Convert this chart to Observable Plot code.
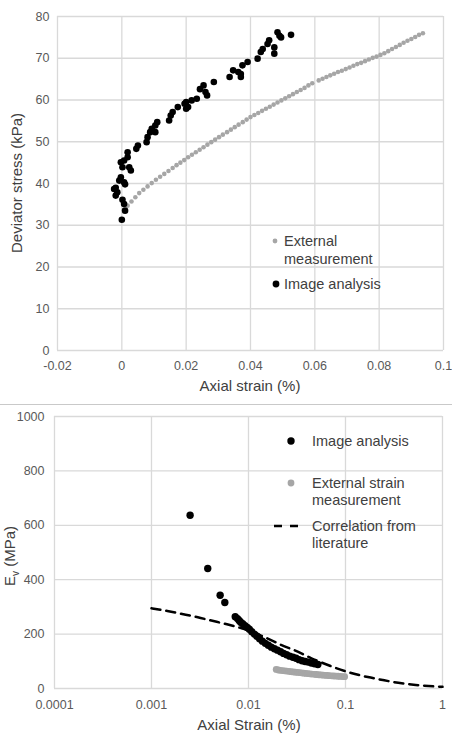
<!DOCTYPE html>
<html><head><meta charset="utf-8">
<script src="https://cdn.jsdelivr.net/npm/d3@7"></script>
<script src="https://cdn.jsdelivr.net/npm/@observablehq/plot@0.6"></script>
<style>
body{margin:0;background:#fff;font-family:"Liberation Sans",Arial,sans-serif;}
#wrap{position:relative;width:452px;height:734px;overflow:hidden;background:#fff}
#top,#bottom{position:absolute;left:0}
#top{top:0}
#bottom{top:405px}
.sep{position:absolute;left:0;top:404px;width:452px;height:1px;background:#c9c9c9}
svg{display:block}
</style></head>
<body><div id="wrap"><div id="top"></div><div class="sep"></div><div id="bottom"></div></div>
<script>
// ---------- Top chart: deviator stress vs axial strain ----------
const topXTicks = [-0.02, 0, 0.02, 0.04, 0.06, 0.08, 0.1];
const topXLabels = ["-0.02", "0", "0.02", "0.04", "0.06", "0.08", "0.1"];
const topYTicks = [0, 10, 20, 30, 40, 50, 60, 70, 80];

const extStrain = [0.0018,0.0030,0.0042,0.0054,0.0067,0.0080,0.0093,0.0106,0.0119,0.0132,0.0145,0.0158,0.0170,0.0182,0.0194,0.0206,0.0218,0.0230,0.0242,0.0254,0.0266,0.0278,0.0290,0.0302,0.0314,0.0327,0.0339,0.0351,0.0363,0.0376,0.0388,0.0400,0.0412,0.0424,0.0436,0.0448,0.0460,0.0472,0.0484,0.0496,0.0508,0.0520,0.0532,0.0544,0.0556,0.0568,0.0580,0.0592,0.0612,0.0624,0.0636,0.0648,0.0660,0.0672,0.0684,0.0696,0.0708,0.0720,0.0732,0.0744,0.0756,0.0768,0.0780,0.0792,0.0804,0.0816,0.0828,0.0840,0.0852,0.0864,0.0876,0.0888,0.0900,0.0912,0.0924,0.0936];
const extStress = [34.7,35.7,36.7,37.7,38.5,39.3,40.1,40.9,41.6,42.3,43.0,43.7,44.4,45.0,45.6,46.3,46.9,47.5,48.1,48.7,49.3,49.9,50.5,51.1,51.7,52.3,52.9,53.5,54.1,54.7,55.3,55.9,56.4,56.9,57.4,57.9,58.4,58.9,59.4,59.9,60.4,60.9,61.4,61.9,62.4,62.9,63.5,64.0,64.7,65.1,65.5,65.9,66.3,66.7,67.0,67.4,67.8,68.2,68.6,68.9,69.3,69.7,70.1,70.4,70.8,71.2,71.7,72.2,72.7,73.2,73.7,74.2,74.6,75.1,75.6,76.0];

const imgStrain = [-0.0024,-0.0019,-0.0014,-0.0019,-0.0008,0.0007,0.0010,-0.0003,0.0002,0.0007,0.0010,0.0000,0.0002,-0.0003,0.0007,0.0018,0.0028,0.0023,0.0018,0.0045,0.0050,0.0077,0.0080,0.0088,0.0104,0.0093,0.0104,0.0110,0.0147,0.0152,0.0158,0.0174,0.0195,0.0200,0.0206,0.0200,0.0217,0.0233,0.0243,0.0254,0.0260,0.0265,0.0286,0.0335,0.0346,0.0362,0.0370,0.0370,0.0375,0.0391,0.0422,0.0432,0.0438,0.0453,0.0458,0.0474,0.0474,0.0484,0.0495,0.0490,0.0526];
const imgStress = [38.7,39.0,37.9,37.1,40.7,40.3,39.8,41.5,36.1,35.1,33.5,31.3,43.9,45.1,45.5,46.3,43.1,43.9,47.5,48.3,49.1,49.9,51.1,52.3,52.3,53.1,53.9,54.7,55.1,56.3,57.1,58.3,59.1,57.9,58.3,59.5,59.9,60.3,62.6,63.5,61.9,61.1,64.3,65.5,67.1,66.7,65.5,66.2,68.3,69.1,69.9,71.5,72.2,73.4,74.3,72.6,71.1,76.2,75.0,75.4,75.6];

// ---------- Bottom chart: Ev vs axial strain (log) ----------
const botXTicks = [0.0001, 0.001, 0.01, 0.1, 1];
const botXLabels = ["0.0001", "0.001", "0.01", "0.1", "1"];
const botYTicks = [0, 200, 400, 600, 800, 1000];
const botYLabels = ["0", "200", "400", "600", "800", "1000"];

const evImgStrain = [0.0025,0.0038,0.0051,0.0057,0.0073,0.0077,0.0080,0.0083,0.0087,0.0092,0.0097,0.0102,0.0108,0.0115,0.0122,0.0130,0.0139,0.0149,0.0160,0.0172,0.0185,0.0199,0.0214,0.0230,0.0247,0.0266,0.0287,0.0309,0.0332,0.0357,0.0384,0.0413,0.0445,0.0480,0.0519];
const evImg = [637,441,343,316,264,257,250,244,238,231,224,218,209,200,192,183,174,166,159,152,146,141,135,129,124,119,115,111,106,102,99,97,94,91,88];

const evExtStrain = [0.0193,0.0203,0.0213,0.0224,0.0236,0.0248,0.0261,0.0274,0.0288,0.0303,0.0319,0.0335,0.0352,0.0370,0.0390,0.0410,0.0430,0.0450,0.0480,0.0500,0.0530,0.0560,0.0590,0.0620,0.0650,0.0680,0.0720,0.0760,0.0800,0.0840,0.0880,0.0930,0.0980];
const evExt = [70,68,67,66,65,64,63,62,61,60,59,58.5,57.5,56.5,55.5,55,54,53,52,51.5,50.5,50,49,48.5,48,47,46.5,46,45.5,45,44.5,44,43.5];

const corrStrain = [0.001,0.0015,0.002,0.003,0.004,0.006,0.008,0.01,0.015,0.0235,0.03,0.044,0.06,0.08,0.1145,0.17,0.243,0.35,0.53,0.8,1];
const corrEv = [295,284,275,262,251,236,224,214,187,155,140,112,92,75,57,42,31,21,13,8,6];

const seriesTop1 = extStrain.map((x,i)=>({x, y: extStress[i]}));
const seriesTop2 = imgStrain.map((x,i)=>({x, y: imgStress[i]}));
const seriesBot1 = evImgStrain.map((x,i)=>({x, y: evImg[i]}));
const seriesBot2 = evExtStrain.map((x,i)=>({x, y: evExt[i]}));
const seriesBot3 = corrStrain.map((x,i)=>({x, y: corrEv[i]}));

const GRID = "#d9d9d9", TICK = "#595959", TITLE = "#404040";
const FONT = '"Liberation Sans", Arial, sans-serif';

const topPlot = Plot.plot({
  width: 452, height: 404,
  marginTop: 16, marginBottom: 54, marginLeft: 57, marginRight: 9,
  style: {fontFamily: FONT, fontSize: "12.5px", color: TICK, background: "#fff"},
  x: {domain: [-0.02, 0.1]},
  y: {domain: [0, 80]},
  marks: [
    Plot.gridX(topXTicks, {stroke: GRID, strokeOpacity: 1, strokeWidth: 1.3}),
    Plot.gridY(topYTicks, {stroke: GRID, strokeOpacity: 1, strokeWidth: 1.3}),
    Plot.axisX(topXTicks, {tickSize: 0, tickPadding: 11, label: null, fill: TICK,
      tickFormat: d => topXLabels[topXTicks.indexOf(d)]}),
    Plot.axisY(topYTicks, {tickSize: 0, tickPadding: 8, label: null, fill: TICK, tickFormat: d => String(d)}),
    Plot.dot(seriesTop1, {x: "x", y: "y", r: 2.3, fill: "#a6a6a6", stroke: "none"}),
    Plot.dot(seriesTop2, {x: "x", y: "y", r: 3.3, fill: "#000", stroke: "none"})
  ]
});
document.getElementById("top").append(topPlot);

const botPlot = Plot.plot({
  width: 452, height: 329,
  marginTop: 11, marginBottom: 46, marginLeft: 54, marginRight: 10,
  style: {fontFamily: FONT, fontSize: "12.5px", color: TICK, background: "#fff"},
  x: {type: "log", domain: [0.0001, 1]},
  y: {domain: [0, 1000]},
  marks: [
    Plot.gridX(botXTicks, {stroke: GRID, strokeOpacity: 1, strokeWidth: 1.3}),
    Plot.gridY(botYTicks, {stroke: GRID, strokeOpacity: 1, strokeWidth: 1.3}),
    Plot.axisX(botXTicks, {tickSize: 0, tickPadding: 12, label: null, fill: TICK,
      tickFormat: d => botXLabels[botXTicks.indexOf(d)]}),
    Plot.axisY(botYTicks, {tickSize: 0, tickPadding: 10, label: null, fill: TICK,
      tickFormat: d => botYLabels[botYTicks.indexOf(d)]}),
    Plot.dot(seriesBot2, {x: "x", y: "y", r: 3.4, fill: "#a6a6a6", stroke: "none"}),
    Plot.line(seriesBot3, {x: "x", y: "y", stroke: "#000", strokeWidth: 2.5, strokeDasharray: "9,6", curve: "monotone-x"}),
    Plot.dot(seriesBot1, {x: "x", y: "y", r: 3.7, fill: "#000", stroke: "none"})
  ]
});
document.getElementById("bottom").append(botPlot);

// ---------- titles & legends ----------
function txt(svg, x, y, s, opts = {}) {
  const t = d3.select(svg).append("text")
    .attr("x", x).attr("y", y)
    .attr("font-family", FONT)
    .attr("font-size", opts.size || 15)
    .attr("fill", opts.fill || TITLE)
    .attr("text-anchor", opts.anchor || "start")
    .text(s);
  if (opts.rotate) t.attr("transform", `rotate(-90 ${x} ${y})`);
  return t;
}
// top
txt(topPlot, 250, 391, "Axial strain (%)", {anchor: "middle"});
txt(topPlot, 22, 183, "Deviator stress (kPa)", {anchor: "middle", rotate: true});
const ts = d3.select(topPlot);
ts.append("circle").attr("cx", 275).attr("cy", 241).attr("r", 2.4).attr("fill", "#a6a6a6");
txt(topPlot, 284, 246, "External", {size: 14.5});
txt(topPlot, 284, 264, "measurement", {size: 14.5});
ts.append("circle").attr("cx", 276).attr("cy", 284).attr("r", 3.4).attr("fill", "#000");
txt(topPlot, 284, 289, "Image analysis", {size: 14.5});

// bottom (svg top at page y = 405)
const o = 405;
txt(botPlot, 249, 730 - o, "Axial Strain (%)", {anchor: "middle"});
const ev = d3.select(botPlot).append("text")
  .attr("font-family", FONT).attr("font-size", 15).attr("fill", TITLE)
  .attr("text-anchor", "middle")
  .attr("transform", `translate(15 ${556 - o}) rotate(-90)`);
ev.append("tspan").text("E");
ev.append("tspan").attr("font-size", 10).attr("dy", 4).text("v");
ev.append("tspan").attr("dy", -4).text(" (MPa)");

const bs = d3.select(botPlot);
bs.append("circle").attr("cx", 291).attr("cy", 441 - o).attr("r", 3.7).attr("fill", "#000");
txt(botPlot, 312, 446 - o, "Image analysis", {size: 14.5});
bs.append("circle").attr("cx", 291).attr("cy", 483 - o).attr("r", 3.4).attr("fill", "#a6a6a6");
txt(botPlot, 312, 488 - o, "External strain", {size: 14.5});
txt(botPlot, 312, 505 - o, "measurement", {size: 14.5});
bs.append("line").attr("x1", 274).attr("x2", 302).attr("y1", 526 - o).attr("y2", 526 - o)
  .attr("stroke", "#000").attr("stroke-width", 2.5).attr("stroke-dasharray", "8,8");
txt(botPlot, 312, 531 - o, "Correlation from", {size: 14.5});
txt(botPlot, 312, 548 - o, "literature", {size: 14.5});
</script>
</body></html>
